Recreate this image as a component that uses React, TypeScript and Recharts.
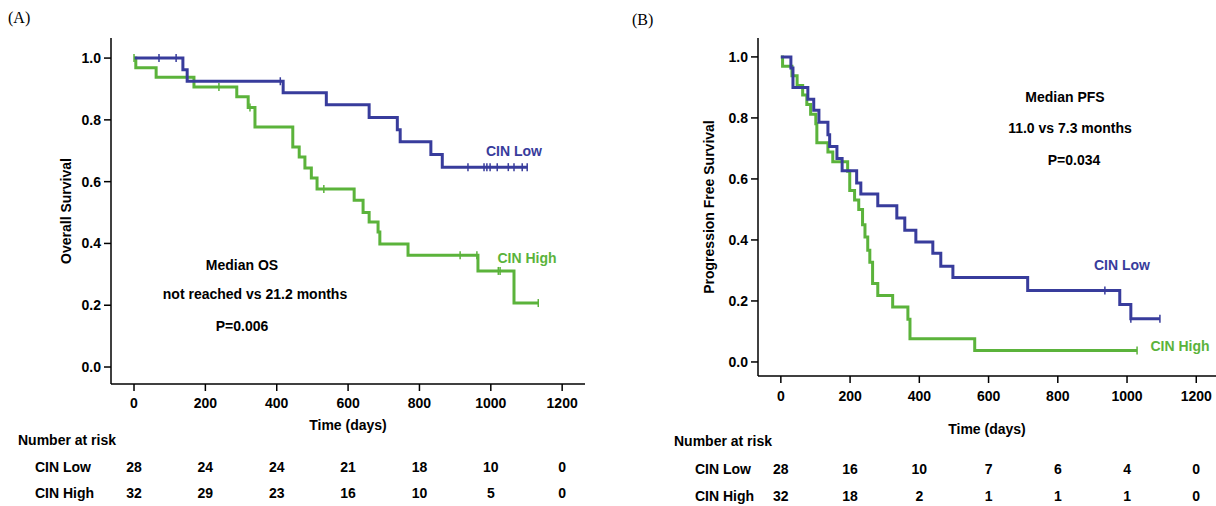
import React from 'react';
import { ComposedChart, Line, Scatter, XAxis, YAxis } from 'recharts';

// ---------- shared ticks ----------
const timeTicks = [0, 200, 400, 600, 800, 1000, 1200];
const survTicks = [0, 0.2, 0.4, 0.6, 0.8, 1.0];

// ---------- Panel A: Overall survival ----------
const osLowTimes = [0, 137, 149, 418, 539, 659, 738, 746, 832, 864, 1102];
const osLowSurv = [1, 0.962, 0.925, 0.888, 0.849, 0.808, 0.768, 0.729, 0.688, 0.647, 0.647];
const osLowCensor = [70, 118, 410, 936, 981, 989, 998, 1018, 1049, 1065, 1088, 1102];

const osHighTimes = [0, 5, 62, 168, 288, 320, 339, 445, 463, 479, 497, 513, 617, 642, 659, 684, 689, 768, 964, 1065, 1133];
const osHighSurv = [1, 0.969, 0.938, 0.906, 0.875, 0.84, 0.777, 0.712, 0.68, 0.644, 0.612, 0.576, 0.54, 0.5, 0.469, 0.437, 0.398, 0.362, 0.311, 0.207, 0.207];
const osHighCensor = [0, 238, 325, 532, 914, 961, 1021, 1026, 1133];

const osRiskLow = [28, 24, 24, 21, 18, 10, 0];
const osRiskHigh = [32, 29, 23, 16, 10, 5, 0];

// ---------- Panel B: Progression free survival ----------
const pfsLowTimes = [0, 29, 35, 78, 95, 110, 136, 141, 162, 177, 219, 231, 280, 335, 358, 390, 439, 462, 497, 713, 979, 1011, 1095];
const pfsLowSurv = [1, 0.964, 0.9, 0.861, 0.825, 0.786, 0.745, 0.706, 0.667, 0.627, 0.587, 0.551, 0.512, 0.472, 0.432, 0.393, 0.356, 0.314, 0.277, 0.234, 0.188, 0.142, 0.142];
const pfsLowCensor = [936, 1011, 1095];

const pfsHighTimes = [0, 5, 32, 47, 63, 75, 86, 101, 104, 136, 150, 193, 199, 213, 225, 236, 243, 251, 257, 265, 280, 323, 367, 373, 560, 1029];
const pfsHighSurv = [1, 0.969, 0.938, 0.906, 0.875, 0.844, 0.812, 0.781, 0.719, 0.688, 0.656, 0.625, 0.5625, 0.531, 0.5, 0.45, 0.41, 0.366, 0.327, 0.257, 0.218, 0.18, 0.14, 0.076, 0.038, 0.038];
const pfsHighCensor = [1029];

const pfsRiskLow = [28, 16, 10, 7, 6, 4, 0];
const pfsRiskHigh = [32, 18, 2, 1, 1, 1, 0];

const BLUE = '#383c9c';
const GREEN = '#5bb33b';
const FONT = 'Liberation Sans, Arial, Helvetica, sans-serif';

type Pt = { t: number; s: number };

const toPoints = (times: number[], surv: number[]): Pt[] => times.map((t, i) => ({ t, s: surv[i] }));

const censorPoints = (cens: number[], times: number[], surv: number[]): Pt[] =>
  cens.map((c) => {
    let s = surv[0];
    for (let i = 0; i < times.length; i++) if (times[i] <= c) s = surv[i];
    return { t: c, s };
  });

const textStyle: React.CSSProperties = { fontFamily: FONT, fontSize: 14, fontWeight: 'bold', fill: '#000' };

const tickShape = (color: string) => (props: any) => {
  const { cx, cy } = props;
  if (cx == null || cy == null) return <g />;
  return <line x1={cx} x2={cx} y1={cy - 4} y2={cy + 4} stroke={color} strokeWidth={1.5} />;
};

type PanelProps = {
  width: number;
  height: number;
  yAxisWidth: number;
  marginRight: number;
  marginTop: number;
  xDomain: [number, number];
  yDomain: [number, number];
  h0: number;
  h1: number;
  h2: number;
  tickMargin: number;
  titleOffset: number;
  narX: number;
  narY: number;
  rowX: number;
  yTitle: string;
  yTitleX: number;
  low: Pt[];
  high: Pt[];
  lowCens: Pt[];
  highCens: Pt[];
  riskLow: number[];
  riskHigh: number[];
};

function Panel(p: PanelProps) {
  const axisLine = { stroke: '#000', strokeWidth: 1.5 };
  const tickLine = { stroke: '#000', strokeWidth: 1.5 };
  return (
    <ComposedChart
      width={p.width}
      height={p.height}
      margin={{ top: p.marginTop, right: p.marginRight, left: 0, bottom: 0 }}
    >
      <XAxis
        xAxisId={0}
        type="number"
        dataKey="t"
        domain={p.xDomain}
        allowDataOverflow
        ticks={timeTicks}
        interval={0}
        height={p.h0}
        tickSize={7}
        tickMargin={p.tickMargin}
        axisLine={axisLine}
        tickLine={tickLine}
        tick={textStyle}
        label={(lp: any) => {
          const vb = lp.viewBox;
          return (
            <g>
              <text x={vb.x + vb.width / 2} y={vb.y + p.titleOffset} dy="0.71em" textAnchor="middle" style={textStyle}>
                Time (days)
              </text>
              <text x={p.narX} y={p.narY} dy="0.71em" textAnchor="start" style={textStyle}>
                Number at risk
              </text>
            </g>
          );
        }}
      />
      <XAxis
        xAxisId="r1"
        type="number"
        dataKey="t"
        domain={p.xDomain}
        allowDataOverflow
        ticks={timeTicks}
        interval={0}
        height={p.h1}
        tickSize={0}
        tickMargin={4}
        axisLine={false}
        tickLine={false}
        tick={textStyle}
        tickFormatter={(v: number) => String(p.riskLow[timeTicks.indexOf(v)])}
        label={(lp: any) => (
          <text x={p.rowX} y={lp.viewBox.y + 4} dy="0.71em" textAnchor="start" style={textStyle}>
            CIN Low
          </text>
        )}
      />
      <XAxis
        xAxisId="r2"
        type="number"
        dataKey="t"
        domain={p.xDomain}
        allowDataOverflow
        ticks={timeTicks}
        interval={0}
        height={p.h2}
        tickSize={0}
        tickMargin={4}
        axisLine={false}
        tickLine={false}
        tick={textStyle}
        tickFormatter={(v: number) => String(p.riskHigh[timeTicks.indexOf(v)])}
        label={(lp: any) => (
          <text x={p.rowX} y={lp.viewBox.y + 4} dy="0.71em" textAnchor="start" style={textStyle}>
            CIN High
          </text>
        )}
      />
      <YAxis
        type="number"
        dataKey="s"
        domain={p.yDomain}
        allowDataOverflow
        ticks={survTicks}
        interval={0}
        width={p.yAxisWidth}
        tickSize={7}
        tickMargin={3}
        axisLine={axisLine}
        tickLine={tickLine}
        tick={textStyle}
        tickFormatter={(v: number) => v.toFixed(1)}
        label={(lp: any) => {
          const vb = lp.viewBox;
          const cy = vb.y + vb.height / 2;
          return (
            <text
              x={p.yTitleX}
              y={cy}
              transform={`rotate(-90 ${p.yTitleX} ${cy})`}
              textAnchor="middle"
              dominantBaseline="central"
              style={textStyle}
            >
              {p.yTitle}
            </text>
          );
        }}
      />
      <Line
        data={p.high}
        dataKey="s"
        type="stepAfter"
        stroke={GREEN}
        strokeWidth={3}
        dot={false}
        activeDot={false}
        isAnimationActive={false}
      />
      <Line
        data={p.low}
        dataKey="s"
        type="stepAfter"
        stroke={BLUE}
        strokeWidth={3}
        dot={false}
        activeDot={false}
        isAnimationActive={false}
      />
      <Scatter data={p.highCens} dataKey="s" shape={tickShape(GREEN)} isAnimationActive={false} />
      <Scatter data={p.lowCens} dataKey="s" shape={tickShape(BLUE)} isAnimationActive={false} />
    </ComposedChart>
  );
}

const Txt = ({ x, y, color = '#000', children, anchor = 'center' }: any) => (
  <div
    style={{
      position: 'absolute',
      left: x,
      top: y,
      transform: anchor === 'center' ? 'translate(-50%, -50%)' : 'translate(0, -50%)',
      fontFamily: FONT,
      fontSize: 14,
      fontWeight: 'bold',
      color,
      whiteSpace: 'nowrap',
      lineHeight: 1,
    }}
  >
    {children}
  </div>
);

const PanelTitle = ({ x, y, children }: any) => (
  <div
    style={{
      position: 'absolute',
      left: x,
      top: y,
      transform: 'translate(0, -50%)',
      fontFamily: 'Liberation Serif, DejaVu Serif, serif',
      fontSize: 16,
      color: '#000',
      lineHeight: 1,
    }}
  >
    {children}
  </div>
);

export default function App() {
  return (
    <div
      style={{
        position: 'fixed',
        left: 0,
        top: 0,
        width: 1216,
        height: 506,
        background: '#fff',
        overflow: 'hidden',
      }}
    >
      <div style={{ position: 'absolute', left: 0, top: 0 }}>
        <Panel
          width={600}
          height={510}
          yAxisWidth={111}
          marginRight={15}
          marginTop={38}
          xDomain={[-64.5, 1264]}
          yDomain={[-0.055, 1.065]}
          h0={74}
          h1={26}
          h2={26}
          tickMargin={7}
          titleOffset={36}
          narX={18}
          narY={435}
          rowX={35}
          yTitle="Overall Survival"
          yTitleX={66}
          low={toPoints(osLowTimes, osLowSurv)}
          high={toPoints(osHighTimes, osHighSurv)}
          lowCens={censorPoints(osLowCensor, osLowTimes, osLowSurv)}
          highCens={censorPoints(osHighCensor, osHighTimes, osHighSurv)}
          riskLow={osRiskLow}
          riskHigh={osRiskHigh}
        />
      </div>
      <div style={{ position: 'absolute', left: 640, top: 0 }}>
        <Panel
          width={576}
          height={510}
          yAxisWidth={118}
          marginRight={0}
          marginTop={38}
          xDomain={[-66, 1257]}
          yDomain={[-0.046, 1.062]}
          h0={84}
          h1={27}
          h2={23}
          tickMargin={8}
          titleOffset={48}
          narX={34}
          narY={436}
          rowX={55}
          yTitle="Progression Free Survival"
          yTitleX={69}
          low={toPoints(pfsLowTimes, pfsLowSurv)}
          high={toPoints(pfsHighTimes, pfsHighSurv)}
          lowCens={censorPoints(pfsLowCensor, pfsLowTimes, pfsLowSurv)}
          highCens={censorPoints(pfsHighCensor, pfsHighTimes, pfsHighSurv)}
          riskLow={pfsRiskLow}
          riskHigh={pfsRiskHigh}
        />
      </div>

      <PanelTitle x={8} y={18}>(A)</PanelTitle>
      <PanelTitle x={632} y={20}>(B)</PanelTitle>

      <Txt x={242} y={265}>Median OS</Txt>
      <Txt x={255} y={294}>not reached vs 21.2 months</Txt>
      <Txt x={242} y={326}>P=0.006</Txt>
      <Txt x={514} y={151} color={BLUE}>CIN Low</Txt>
      <Txt x={527} y={258} color={GREEN}>CIN High</Txt>

      <Txt x={1065} y={97}>Median PFS</Txt>
      <Txt x={1070} y={128}>11.0 vs 7.3 months</Txt>
      <Txt x={1074} y={160}>P=0.034</Txt>
      <Txt x={1122} y={265} color={BLUE}>CIN Low</Txt>
      <Txt x={1180} y={346} color={GREEN}>CIN High</Txt>
    </div>
  );
}
